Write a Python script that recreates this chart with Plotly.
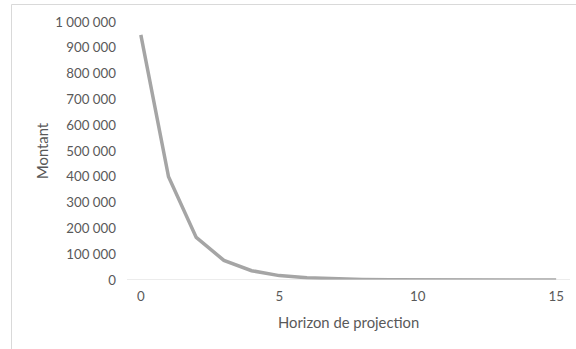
import plotly.graph_objects as go

# Projection horizon (years) and projected amount
horizon = list(range(16))
montant = [950000, 400000, 165000, 76000, 36000, 17000, 8500, 4200,
           2100, 1050, 520, 260, 130, 65, 32, 16]

y_ticks = [0, 100000, 200000, 300000, 400000, 500000, 600000, 700000,
           800000, 900000, 1000000]
x_ticks = [0, 5, 10, 15]

FONT = "Lato, Carlito, Calibri, sans-serif"
TXT = "#595959"

W, H = 576, 349
L, R, T, B = 127, 6, 22, 69
pw, ph = W - L - R, H - T - B

def px_to_paper_x(px):
    return (px - L) / pw

def px_to_paper_y(py):
    return (H - B - py) / ph

fig = go.Figure()
fig.add_trace(go.Scatter(
    x=horizon, y=montant, mode="lines",
    line=dict(color="#a5a5a5", width=3.5),
    hoverinfo="skip", showlegend=False,
))

fig.update_layout(
    width=W, height=H,
    margin=dict(l=L, r=R, t=T, b=B),
    paper_bgcolor="white", plot_bgcolor="white",
    separators=", ",
    font=dict(family=FONT, size=12, color=TXT),
    xaxis=dict(
        range=[-0.5, 15.5], tickvals=x_ticks, showgrid=False, zeroline=False,
        showline=False, ticks="", tickfont=dict(size=13.3, color=TXT),
        ticklabelstandoff=7,
    ),
    yaxis=dict(
        range=[0, 1000000], tickvals=y_ticks, tickformat=",d", showgrid=False,
        zeroline=False, showline=False, ticks="",
        tickfont=dict(size=13.3, color=TXT), ticklabelstandoff=10,
    ),
    shapes=[
        # horizontal axis line at zero
        dict(type="line", xref="paper", yref="y", x0=0, x1=1, y0=0, y1=0,
             line=dict(color="#d9d9d9", width=1)),
        # chart area border
        dict(type="rect", xref="paper", yref="paper",
             x0=px_to_paper_x(11.5), x1=px_to_paper_x(590),
             y0=px_to_paper_y(365), y1=px_to_paper_y(4.5),
             line=dict(color="#d9d9d9", width=1), layer="below"),
    ],
    annotations=[
        dict(text="Montant", xref="paper", yref="paper",
             x=px_to_paper_x(42), y=px_to_paper_y(151), textangle=-90,
             showarrow=False, xanchor="center", yanchor="middle",
             font=dict(size=14.8, color=TXT)),
        dict(text="Horizon de projection", xref="paper", yref="paper",
             x=px_to_paper_x(348), y=px_to_paper_y(322),
             showarrow=False, xanchor="center", yanchor="middle",
             font=dict(size=14.8, color=TXT)),
    ],
)

fig.write_html("out.html")
